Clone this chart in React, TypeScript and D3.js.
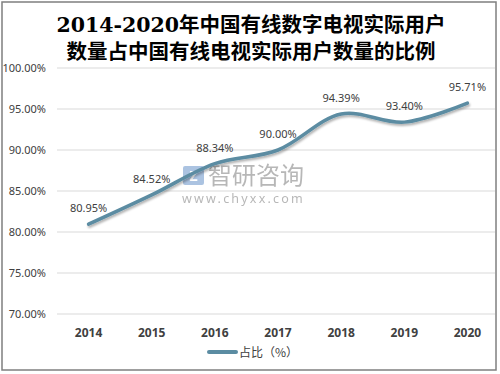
import React from 'react'
import * as d3 from 'd3'

const years = ['2014', '2015', '2016', '2017', '2018', '2019', '2020']
const share = [80.95, 84.52, 88.34, 90.0, 94.39, 93.4, 95.71]
const yTicks = [70, 75, 80, 85, 90, 95, 100]
const titleLines = ['2014-2020年中国有线数字电视实际用户', '数量占中国有线电视实际用户数量的比例']
const seriesName = '占比（%）'

const W = 500
const H = 374
const lineColor = '#5b8ca2'
const labelFont = '"Noto Sans", "Noto Sans CJK SC", sans-serif'

export default function App() {
  const x = d3.scaleBand<string>().domain(years).range([57, 499])
  const y = d3.scaleLinear().domain([70, 100]).range([314, 68])
  const cx = (d: string) => (x(d) as number) + x.bandwidth() / 2

  const path = d3
    .line<number>()
    .x((_, i) => cx(years[i]))
    .y((v) => y(v))
    .curve(d3.curveCatmullRom.alpha(0.5))(share) as string

  return (
    <svg width={W} height={H} style={{ position: 'absolute', left: 0, top: 0, background: '#fff' }}>
      <defs>
        <filter id="shadow" x="-10%" y="-10%" width="120%" height="140%">
          <feDropShadow dx="1" dy="2" stdDeviation="1" floodColor="#000" floodOpacity="0.3" />
        </filter>
      </defs>
      <rect x={2} y={2} width={494} height={368} fill="#fff" stroke="#7f7f7f" strokeWidth={1.5} />

      {titleLines.map((t, i) => (
        <text
          key={i}
          x={251}
          y={32 + i * 27}
          textAnchor="middle"
          fontFamily='"DejaVu Serif", "Noto Sans CJK SC", serif'
          fontWeight="bold"
          fontSize={20.5}
          fill="#000"
        >
          {t}
        </text>
      ))}

      {/* grid + y labels */}
      {yTicks.map((t) => (
        <g key={t}>
          <line x1={57} x2={495} y1={y(t)} y2={y(t)} stroke="#d9d9d9" strokeWidth={1} />
          <text x={46} y={y(t) + 4} textAnchor="end" fontFamily={labelFont} fontSize={11} fill="#404040">
            {t.toFixed(2)}%
          </text>
        </g>
      ))}

      {/* watermark */}
      <g opacity={0.75}>
        <rect x={183} y={166} width={21} height={19} rx={2} fill="#8fb0d8" />
        <text x={193.5} y={181} textAnchor="middle" fontFamily={labelFont} fontWeight="bold" fontSize={14} fill="#fff">
          Z
        </text>
        <text x={208} y={184} fontFamily='"Noto Sans CJK SC", sans-serif' fontSize={24} fill="#a0a0a0">
          智研咨询
        </text>
        <text x={182} y={203} fontFamily={labelFont} fontSize={12.5} letterSpacing={2.2} fill="#a0a0a0">
          www.chyxx.com
        </text>
      </g>

      <path
        d={path}
        fill="none"
        stroke={lineColor}
        strokeWidth={3.5}
        strokeLinecap="round"
        filter="url(#shadow)"
      />

      {share.map((v, i) => (
        <text
          key={years[i]}
          x={cx(years[i])}
          y={y(v) - 12}
          textAnchor="middle"
          fontFamily={labelFont}
          fontSize={11}
          fill="#404040"
        >
          {v.toFixed(2)}%
        </text>
      ))}

      {years.map((yr) => (
        <text
          key={yr}
          x={cx(yr)}
          y={337}
          textAnchor="middle"
          fontFamily={labelFont}
          fontWeight="bold"
          fontSize={12}
          fill="#404040"
        >
          {yr}
        </text>
      ))}

      {/* legend */}
      <line x1={209} x2={236} y1={352} y2={352} stroke={lineColor} strokeWidth={4} strokeLinecap="round" />
      <text x={239} y={356.5} fontFamily='"Noto Sans CJK SC", sans-serif' fontSize={12} fill="#404040">
        {seriesName}
      </text>
    </svg>
  )
}
